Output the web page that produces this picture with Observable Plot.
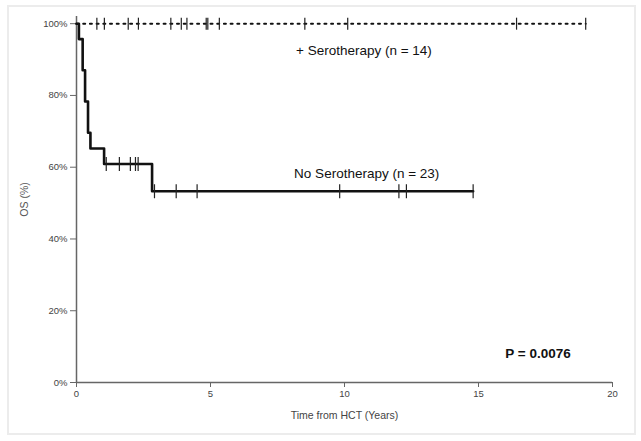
<!DOCTYPE html>
<html><head><meta charset="utf-8">
<script src="https://cdn.jsdelivr.net/npm/d3@7"></script>
<script src="https://cdn.jsdelivr.net/npm/@observablehq/plot@0.6"></script>
<style>
html,body{margin:0;padding:0;background:#fff;}
#wrap{position:relative;width:641px;height:441px;}
#wrap svg{position:absolute;left:0;top:0;}
#frame{position:absolute;left:7px;top:5px;width:629px;height:430px;border:2px solid #ececec;box-sizing:border-box;pointer-events:none;}
</style></head><body><div id="wrap"><div id="frame"></div></div>
<script>
// No Serotherapy (n = 23): Kaplan-Meier step points (years, % surviving)
const noSeroTime = [0, 0.09, 0.23, 0.32, 0.43, 0.52, 1.03, 2.82, 14.8];
const noSeroSurv = [100, 95.7, 87.0, 78.3, 69.6, 65.2, 60.9, 53.3, 53.3];
const noSeroCensor = [1.11, 1.60, 2.01, 2.20, 2.30, 2.91, 3.72, 4.50, 9.82, 12.03, 12.31, 14.80];
// + Serotherapy (n = 14): no events
const seroTime = [0, 19.0];
const seroSurv = [100, 100];
const seroCensor = [0.76, 1.04, 1.93, 2.31, 3.52, 3.91, 4.12, 4.84, 4.90, 5.33, 8.52, 10.12, 16.42, 19.0];
const xTicks = [0, 5, 10, 15, 20];
const yTicks = [0, 20, 40, 60, 80, 100];
const groupText = ["+ Serotherapy (n = 14)", "No Serotherapy (n = 23)"];
const groupX = [8.19, 8.12];
const groupY = [92.5, 58.3];
const pText = ["P = 0.0076"];
const pX = [16.0];
const pY = [8.0];

const stepValue = (times, surv, t) => {
  let v = surv[0];
  for (let i = 0; i < times.length; i++) if (times[i] <= t) v = surv[i];
  return v;
};
const noSero = noSeroTime.map((t, i) => ({t, s: noSeroSurv[i]}));
const sero = seroTime.map((t, i) => ({t, s: seroSurv[i]}));
const noSeroC = noSeroCensor.map(t => ({t, s: stepValue(noSeroTime, noSeroSurv, t)}));
const seroC = seroCensor.map(t => ({t, s: stepValue(seroTime, seroSurv, t)}));
const groups = groupText.map((text, i) => ({text, x: groupX[i], y: groupY[i]}));
const pLabel = pText.map((text, i) => ({text, x: pX[i], y: pY[i]}));

const vbar = {draw(ctx, size) { const r = Math.sqrt(size / Math.PI); ctx.moveTo(0, -r); ctx.lineTo(0, r); }};

const chart = Plot.plot({
  width: 641, height: 441,
  marginLeft: 76, marginRight: 29, marginTop: 16, marginBottom: 59,
  style: {fontFamily: "'Liberation Sans', Arial, sans-serif", background: "transparent", overflow: "visible"},
  x: {domain: [0, 20]},
  y: {domain: [0, 102]},
  marks: [
    Plot.axisX({ticks: xTicks, tickSize: 5, tickPadding: 3, fontSize: 9.5, fill: "#444", stroke: "#666", label: null}),
    Plot.axisX({ticks: [], fontSize: 10.5, fill: "#444",
      label: "Time from HCT (Years)", labelAnchor: "center", labelArrow: "none", labelOffset: 36}),
    Plot.axisY({ticks: yTicks, tickSize: 6, tickPadding: 3, fontSize: 9.5, fill: "#444", stroke: "#666",
      tickFormat: d => d + "%", label: null}),
    Plot.axisY({ticks: [], fontSize: 10.5, fill: "#555",
      label: "OS (%)", labelAnchor: "center", labelArrow: "none", labelOffset: 56}),
    Plot.ruleX([0], {stroke: "#666", strokeWidth: 1.5}),
    Plot.ruleY([0], {stroke: "#666", strokeWidth: 1.5}),
    Plot.line(sero, {x: "t", y: "s", stroke: "#111", strokeWidth: 2, strokeDasharray: "2,4.7"}),
    Plot.line(noSero, {x: "t", y: "s", curve: "step-after", stroke: "#111", strokeWidth: 2.6}),
    Plot.dot(seroC, {x: "t", y: "s", symbol: vbar, r: 6, stroke: "#222", strokeWidth: 1.2, fill: "none"}),
    Plot.dot(noSeroC, {x: "t", y: "s", symbol: vbar, r: 7, stroke: "#222", strokeWidth: 1.2, fill: "none"}),
    Plot.text(groups, {x: "x", y: "y", text: "text", textAnchor: "start", fontSize: 13.5, fill: "#111"}),
    Plot.text(pLabel, {x: "x", y: "y", text: "text", textAnchor: "start", fontSize: 13.5, fontWeight: "bold", fill: "#111"})
  ]
});
document.getElementById("wrap").appendChild(chart);
</script>
</body></html>
